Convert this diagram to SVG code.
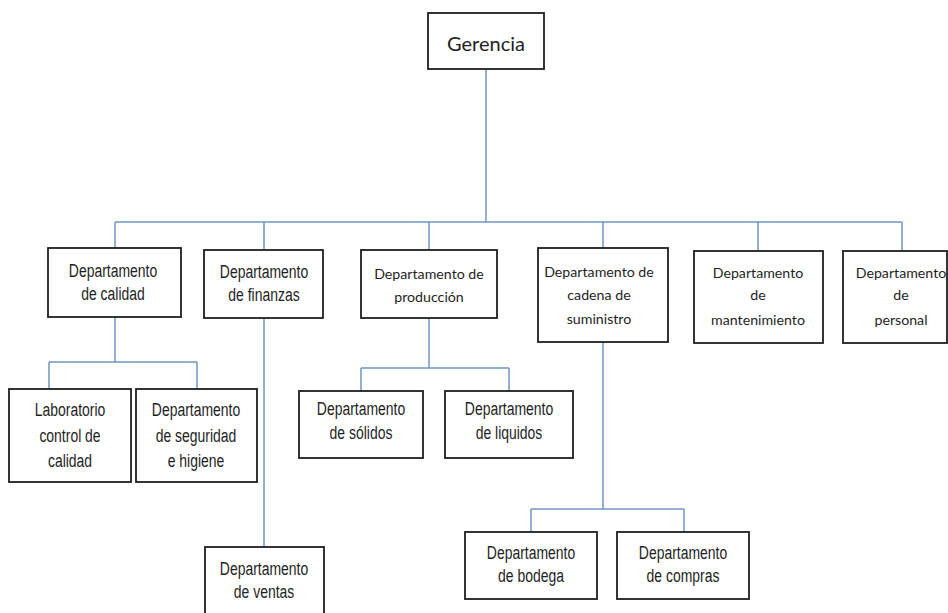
<svg xmlns="http://www.w3.org/2000/svg" width="948" height="613" viewBox="0 0 948 613">
  <style>
    .box { fill: #ffffff; stroke: #1e1e1e; stroke-width: 1.8; }
    .link { fill: none; stroke: #6f98c3; stroke-width: 1.5; }
    .narrow text { font-family: "Liberation Sans", Arial, sans-serif; font-size: 18px; fill: #1e1e1e; text-anchor: middle; }
    .soft { font-family: Lato, "Open Sans", sans-serif; font-size: 14.2px; fill: #1e1e1e; text-anchor: middle; }
  </style>
  <rect width="948" height="613" fill="#ffffff"/>

  <g id="connectors">
    <path class="link" d="M486 69V222M115 222H902M115 222V248M264 222V250M429 222V250M603 222V248M758 222V251M902 222V251"/>
    <path class="link" d="M115 317V362M49 362H197M49 362V389M197 362V389"/>
    <path class="link" d="M264 318V547"/>
    <path class="link" d="M429 318V368M361 368H509M361 368V391M509 368V391"/>
    <path class="link" d="M603 342V509M531 509H684M531 509V532M684 509V532"/>
  </g>

  <g id="gerencia">
    <rect class="box" x="428" y="13" width="116" height="56"/>
    <text class="soft" x="486" y="51" style="font-size:20px">Gerencia</text>
  </g>

  <!-- condensed labels: horizontally squeezed sans -->
  <g id="calidad">
    <rect class="box" x="48" y="248" width="133" height="69"/>
    <g class="narrow" transform="translate(113 0) scale(0.775 1)">
      <text y="277">Departamento</text>
      <text y="300">de calidad</text>
    </g>
  </g>

  <g id="finanzas">
    <rect class="box" x="204" y="250" width="119" height="68"/>
    <g class="narrow" transform="translate(264 0) scale(0.775 1)">
      <text y="278">Departamento</text>
      <text y="301">de finanzas</text>
    </g>
  </g>

  <g id="produccion">
    <rect class="box" x="361" y="250" width="136" height="68"/>
    <text class="soft" x="429" y="279">Departamento de</text>
    <text class="soft" x="429" y="302">producción</text>
  </g>

  <g id="cadena">
    <rect class="box" x="538" y="248" width="130" height="94"/>
    <text class="soft" x="599" y="277">Departamento de</text>
    <text class="soft" x="599" y="300">cadena de</text>
    <text class="soft" x="599" y="324">suministro</text>
  </g>

  <g id="mantenimiento">
    <rect class="box" x="694" y="251" width="129" height="92"/>
    <text class="soft" x="758" y="278">Departamento</text>
    <text class="soft" x="758" y="300">de</text>
    <text class="soft" x="758" y="325">mantenimiento</text>
  </g>

  <g id="personal">
    <rect class="box" x="843" y="251" width="104" height="92"/>
    <text class="soft" x="901" y="278">Departamento</text>
    <text class="soft" x="901" y="300">de</text>
    <text class="soft" x="901" y="325">personal</text>
  </g>

  <g id="laboratorio">
    <rect class="box" x="9" y="389" width="122" height="93"/>
    <g class="narrow" transform="translate(70 0) scale(0.775 1)">
      <text y="416">Laboratorio</text>
      <text y="442">control de</text>
      <text y="467">calidad</text>
    </g>
  </g>

  <g id="seguridad">
    <rect class="box" x="136" y="389" width="121" height="93"/>
    <g class="narrow" transform="translate(196 0) scale(0.775 1)">
      <text y="416">Departamento</text>
      <text y="442">de seguridad</text>
      <text y="467">e higiene</text>
    </g>
  </g>

  <g id="solidos">
    <rect class="box" x="299" y="391" width="124" height="67"/>
    <g class="narrow" transform="translate(361 0) scale(0.775 1)">
      <text y="415">Departamento</text>
      <text y="439">de sólidos</text>
    </g>
  </g>

  <g id="liquidos">
    <rect class="box" x="445" y="391" width="128" height="67"/>
    <g class="narrow" transform="translate(509 0) scale(0.775 1)">
      <text y="415">Departamento</text>
      <text y="439">de liquidos</text>
    </g>
  </g>

  <g id="ventas">
    <rect class="box" x="205" y="547" width="119" height="70"/>
    <g class="narrow" transform="translate(264 0) scale(0.775 1)">
      <text y="575">Departamento</text>
      <text y="598">de ventas</text>
    </g>
  </g>

  <g id="bodega">
    <rect class="box" x="465" y="532" width="132" height="67"/>
    <g class="narrow" transform="translate(531 0) scale(0.775 1)">
      <text y="559">Departamento</text>
      <text y="582">de bodega</text>
    </g>
  </g>

  <g id="compras">
    <rect class="box" x="617" y="532" width="132" height="67"/>
    <g class="narrow" transform="translate(683 0) scale(0.775 1)">
      <text y="559">Departamento</text>
      <text y="582">de compras</text>
    </g>
  </g>
</svg>
